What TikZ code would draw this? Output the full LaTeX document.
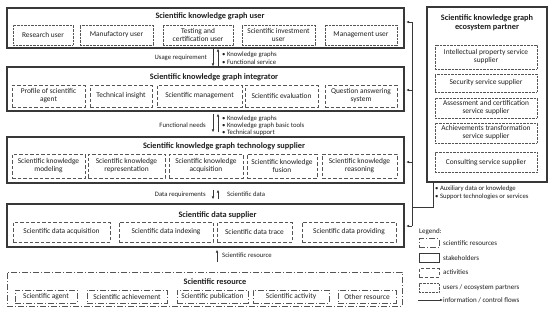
\documentclass[tikz,border=0pt]{standalone}
\usepackage{fontspec}
\setmainfont{Carlito}
\usetikzlibrary{arrows.meta}
\definecolor{frame}{HTML}{383838}
\definecolor{innerc}{HTML}{555555}
\definecolor{txt}{HTML}{1E1E1E}
\newcommand{\fsInner}{\fontsize{7.4}{8}\selectfont}
\newcommand{\fsTitle}{\fontsize{8.3}{9.3}\selectfont\bfseries}
\newcommand{\fsSmall}{\fontsize{6.7}{7.2}\selectfont}
\newcommand{\fsLeg}{\fontsize{7}{8}\selectfont}
\tikzset{
  stake/.style={draw=frame, line width=1.2pt, inner sep=0pt},
  resbox/.style={draw=innerc, line width=0.8pt, dash pattern=on 6pt off 2pt on 1pt off 2pt, inner sep=0pt, align=center, font=\fsInner},
  act/.style={draw=innerc, line width=0.65pt, dash pattern=on 3.5pt off 2pt, inner sep=0pt, align=center, font=\fsInner},
  usr/.style={draw=innerc, line width=0.65pt, dash pattern=on 0.7pt off 0.7pt, inner sep=0pt, align=center, font=\fsInner},
  ttl/.style={font=\fsTitle, inner sep=0pt, align=center},
  lbl/.style={font=\fsSmall, inner sep=0pt, align=left},
  leg/.style={font=\fsLeg, inner sep=0pt, align=left, anchor=west},
  flow/.style={draw=frame, line width=0.6pt, -{Latex[length=3pt,width=2.6pt]}},
  plain/.style={draw=frame, line width=0.6pt},
  every node/.style={text=txt},
}
\begin{document}
\begin{tikzpicture}[x=1pt,y=-1pt]
\useasboundingbox (0,0) rectangle (554,313);
% ---------- user ----------
\node[stake, minimum width=397pt, minimum height=40pt] (user) at (205.5,28) {};
\node[ttl] (usert) at (210,16) {Scientific knowledge graph user};
\node[usr, minimum width=60pt, minimum height=20pt] (u1) at (43,35) {Research user};
\node[usr, minimum width=73pt, minimum height=20pt] (u2) at (116.5,35) {Manufactory user};
\node[usr, minimum width=70pt, minimum height=20pt] (u3) at (198,35) {Testing and\\certification user};
\node[usr, minimum width=73pt, minimum height=20pt] (u4) at (278.5,35) {Scientific investment\\user};
\node[usr, minimum width=72pt, minimum height=20pt] (u5) at (361,35) {Management user};
% ---------- integrator ----------
\node[stake, minimum width=397pt, minimum height=44pt] (integ) at (205.5,89) {};
\node[ttl] (integt) at (214,77) {Scientific knowledge graph integrator};
\node[act, minimum width=73pt, minimum height=22pt] (i1) at (48.5,96) {Profile of scientific\\agent};
\node[act, minimum width=62pt, minimum height=22pt] (i2) at (121,96) {Technical insight};
\node[act, minimum width=85pt, minimum height=22pt] (i3) at (199.5,96) {Scientific management};
\node[act, minimum width=73pt, minimum height=22pt] (i4) at (281.5,96) {Scientific evaluation};
\node[act, minimum width=72pt, minimum height=22pt] (i5) at (361,96) {Question answering\\system};
% ---------- technology supplier ----------
\node[stake, minimum width=397pt, minimum height=46pt] (tech) at (205.5,160) {};
\node[ttl] (techt) at (224,146) {Scientific knowledge graph technology supplier};
\node[act, minimum width=73pt, minimum height=24pt] (t1) at (48.5,166) {Scientific knowledge\\modeling};
\node[act, minimum width=77pt, minimum height=24pt] (t2) at (126.5,166) {Scientific knowledge\\representation};
\node[act, minimum width=74pt, minimum height=24pt] (t3) at (206,166) {Scientific knowledge\\acquisition};
\node[act, minimum width=70pt, minimum height=24pt] (t4) at (282,166) {Scientific knowledge\\fusion};
\node[act, minimum width=75pt, minimum height=24pt] (t5) at (359.5,166) {Scientific knowledge\\reasoning};
% ---------- data supplier ----------
\node[stake, minimum width=397pt, minimum height=43pt] (data) at (205.5,225.5) {};
\node[ttl] (datat) at (217.5,215) {Scientific data supplier};
\node[act, minimum width=97pt, minimum height=20pt] (d1) at (61.5,232) {Scientific data acquisition};
\node[act, minimum width=94pt, minimum height=20pt] (d2) at (166,232) {Scientific data indexing};
\node[act, minimum width=75pt, minimum height=20pt] (d3) at (254.5,232) {Scientific data trace};
\node[act, minimum width=94pt, minimum height=20pt] (d4) at (349,232) {Scientific data providing};
% ---------- scientific resource ----------
\node[resbox, minimum width=395pt, minimum height=34pt] (res) at (204.5,289) {};
\node[ttl] (rest) at (215,281.5) {Scientific resource};
\node[resbox, minimum width=62pt, minimum height=13pt] (r1) at (46,296.5) {Scientific agent};
\node[resbox, minimum width=80pt, minimum height=13pt] (r2) at (127,296.5) {Scientific achievement};
\node[resbox, minimum width=71pt, minimum height=13pt] (r3) at (212.5,296.5) {Scientific publication};
\node[resbox, minimum width=76pt, minimum height=13pt] (r4) at (291,296.5) {Scientific activity};
\node[resbox, minimum width=58pt, minimum height=13pt] (r5) at (367,296.5) {Other resource};
% ---------- ecosystem partner ----------
\node[stake, minimum width=120pt, minimum height=175pt] (eco) at (487,94.5) {};
\node[ttl] (ecot) at (487,22.5) {Scientific knowledge graph\\ecosystem partner};
\node[usr, minimum width=102pt, minimum height=24pt] (e1) at (486,57) {Intellectual property service\\supplier};
\node[usr, minimum width=102pt, minimum height=18pt] (e2) at (486,83) {Security service supplier};
\node[usr, minimum width=102pt, minimum height=20pt] (e3) at (486,108) {Assessment and certification\\service supplier};
\node[usr, minimum width=102pt, minimum height=20pt] (e4) at (486,133) {Achievements transformation\\service supplier};
\node[usr, minimum width=102pt, minimum height=20pt] (e5) at (486,162.5) {Consulting service supplier};
\node[lbl, anchor=west, align=left, font=\fontsize{6.7}{8}\selectfont] (ecob) at (435,193) {• Auxiliary data or knowledge\\• Support technologies or services};
% ---------- layer arrows ----------
\coordinate (cL) at (213,0);
\coordinate (cR) at (218,0);
\coordinate (cM) at (217,0);
\draw[flow] (user.south -| cL) -- (integ.north -| cL);
\draw[flow] (integ.north -| cR) -- (user.south -| cR);
\node[lbl, anchor=east] (lab1) at (207,57.5) {Usage requirement};
\node[lbl, anchor=west, font=\fontsize{6.7}{8}\selectfont] (lab1b) at (222,58) {• Knowledge graphs\\• Functional service};
\draw[flow, shorten <=2pt, shorten >=4pt] (integ.south -| cL) -- (tech.north -| cL);
\draw[flow, shorten <=4pt, shorten >=2pt] (tech.north -| cR) -- (integ.south -| cR);
\node[lbl, anchor=east] (lab2) at (206,125) {Functional needs};
\node[lbl, anchor=west] (lab2b) at (222,125.5) {• Knowledge graphs\\• Knowledge graph basic tools\\• Technical support};
\draw[flow, shorten <=6pt, shorten >=4pt] (tech.south -| cL) -- (data.north -| cL);
\draw[flow, shorten <=4pt, shorten >=6pt] (data.north -| cR) -- (tech.south -| cR);
\node[lbl, anchor=east] (lab3) at (206,194.5) {Data requirements};
\node[lbl, anchor=west] (lab3b) at (227,194.5) {Scientific data};
\draw[flow, shorten <=10pt, shorten >=2pt] (res.north -| cM) -- (data.south -| cM);
\node[lbl, anchor=west] (lab4) at (222,255.5) {Scientific resource};
% ---------- feedback line ----------
\coordinate (fbtop) at (412,22);
\coordinate (fbint) at (412,90);
\coordinate (fbtech) at (412,162);
\coordinate (fbj) at (412,207);
\coordinate (fbbot) at (412,226);
\coordinate (ecox) at (433,0);
\draw[plain] (eco.south -| ecox) |- (fbj);
\draw[plain] (fbtop) -- (fbbot);
\draw[flow, shorten >=1.5pt] (fbtop) -- (fbtop -| user.east);
\draw[flow, shorten >=1.5pt] (fbint) -- (fbint -| integ.east);
\draw[flow, shorten >=1.5pt] (fbtech) -- (fbtech -| tech.east);
\draw[flow, shorten >=1.5pt] (fbbot) -- (fbbot -| data.east);
% ---------- legend ----------
\node[leg] (lg) at (419,232) {Legend:};
\node[resbox, minimum width=20pt, minimum height=9pt] (li1) at (429,243) {};
\node[leg] (lt1) at (443,243) {scientific resources};
\node[draw=frame, line width=0.8pt, inner sep=0pt, minimum width=20pt, minimum height=9pt] (li2) at (429,258) {};
\node[leg] (lt2) at (443,258) {stakeholders};
\node[act, minimum width=20pt, minimum height=9pt] (li3) at (429,272.5) {};
\node[leg] (lt3) at (443,272.5) {activities};
\node[usr, minimum width=20pt, minimum height=9pt] (li4) at (429,288) {};
\node[leg] (lt4) at (443,288) {users / ecosystem partners};
\coordinate (lf1) at (418,300);
\draw[flow] (lf1) -- (lt4.west |- lf1);
\node[leg] (lt5) at (443,300) {information / control flows};
\end{tikzpicture}
\end{document}
